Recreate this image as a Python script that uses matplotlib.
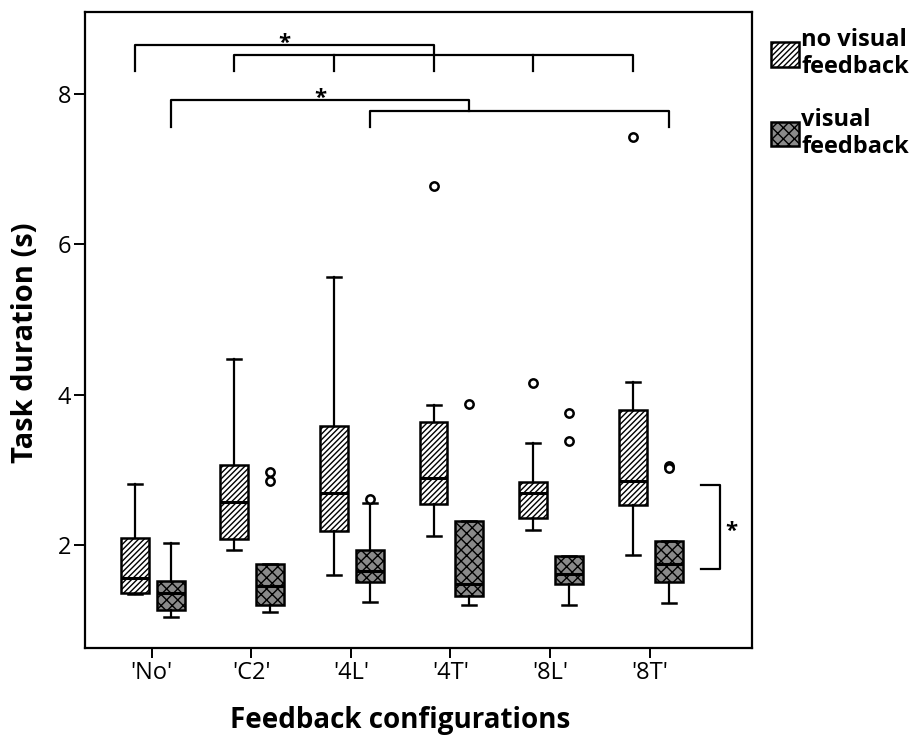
import matplotlib
matplotlib.use("Agg")
import matplotlib.pyplot as plt
from matplotlib.patches import Patch
import numpy as np

plt.rcParams['font.family'] = ['Open Sans', 'DejaVu Sans']
plt.rcParams['hatch.linewidth'] = 1.0

# ---- data ----
categories = ["'No'", "'C2'", "'4L'", "'4T'", "'8L'", "'8T'"]

# no visual feedback
nv_whislo = [1.35, 1.93, 1.60, 2.12, 2.20, 1.87]
nv_q1 = [1.36, 2.08, 2.19, 2.55, 2.36, 2.53]
nv_med = [1.56, 2.57, 2.69, 2.89, 2.70, 2.85]
nv_q3 = [2.09, 3.07, 3.59, 3.64, 2.84, 3.80]
nv_whishi = [2.81, 4.47, 5.57, 3.87, 3.36, 4.17]
nv_fliers = [[], [], [], [6.78], [4.15], [7.43]]

# visual feedback
v_whislo = [1.04, 1.11, 1.24, 1.21, 1.21, 1.23]
v_q1 = [1.14, 1.21, 1.51, 1.33, 1.49, 1.51]
v_med = [1.36, 1.46, 1.66, 1.48, 1.62, 1.75]
v_q3 = [1.52, 1.75, 1.94, 2.32, 1.85, 2.05]
v_whishi = [2.03, 1.75, 2.56, 2.32, 1.85, 2.05]
v_fliers = [[], [2.97, 2.85], [2.61], [3.88], [3.76, 3.39], [3.05, 3.02]]

legend_labels = ["no visual\nfeedback", "visual\nfeedback"]

# significance brackets (y levels in seconds)
upper_levels = [8.65, 8.52, 8.30]   # bracket 1 top, bracket 2 top, feet
lower_levels = [7.92, 7.77, 7.56]   # bracket 3 top, bracket 4 top, feet
side_bracket = [2.80, 1.69]         # right-hand bracket (nv vs v overall)


def make_stats(lo, q1, med, q3, hi, fl):
    return [dict(whislo=a, q1=b, med=c, q3=d, whishi=e, fliers=f)
            for a, b, c, d, e, f in zip(lo, q1, med, q3, hi, fl)]


def draw_boxes(ax, stats, pos, face, hatch):
    ax.bxp(
        stats, positions=pos, widths=0.28, capwidths=0.14,
        patch_artist=True, manage_ticks=False,
        boxprops=dict(facecolor=face, edgecolor='black', linewidth=1.8, hatch=hatch),
        medianprops=dict(color='black', linewidth=2.2),
        whiskerprops=dict(color='black', linewidth=1.6),
        capprops=dict(color='black', linewidth=1.8),
        flierprops=dict(marker='o', markerfacecolor='white', markeredgecolor='black',
                        markersize=6, markeredgewidth=1.8),
    )


def star(ax, x, y, **kw):
    ax.text(x, y, '*', ha='center', va='center', fontsize=16, fontweight='bold', **kw)


def draw_brackets(ax, nv_pos, v_pos):
    kw = dict(color='black', linewidth=1.6)
    top1, top2, foot = upper_levels
    # bracket 1: 'No' -> '4T' (no visual)
    ax.plot([nv_pos[0], nv_pos[0], nv_pos[3], nv_pos[3]], [foot, top1, top1, foot], **kw)
    # bracket 2: 'C2' .. '8T' (no visual)
    ax.plot([nv_pos[1], nv_pos[1], nv_pos[5], nv_pos[5]], [foot, top2, top2, foot], **kw)
    for i in (2, 4):
        ax.plot([nv_pos[i], nv_pos[i]], [top2, foot], **kw)
    star(ax, (nv_pos[0] + nv_pos[3]) / 2, top1 + 0.02)

    top3, top4, foot2 = lower_levels
    # bracket 3: 'No' -> '4T' (visual)
    ax.plot([v_pos[0], v_pos[0], v_pos[3], v_pos[3]], [foot2, top3, top3, top4], **kw)
    # bracket 4: '4L' -> '8T' (visual)
    ax.plot([v_pos[2], v_pos[2], v_pos[5], v_pos[5]], [foot2, top4, top4, foot2], **kw)
    star(ax, (v_pos[0] + v_pos[3]) / 2, top3 + 0.02)

    # right side bracket
    hi, lo = side_bracket
    ax.plot([6.52, 6.71, 6.71, 6.52], [hi, hi, lo, lo], **kw)
    star(ax, 6.82, (hi + lo) / 2 - 0.06)


def main():
    fig = plt.figure(figsize=(9.14, 7.4), dpi=100)
    ax = fig.add_axes([0.093, 0.125, 0.730, 0.859])

    x = np.arange(1, len(categories) + 1)
    nv_pos = x - 0.17
    v_pos = x + 0.19

    draw_boxes(ax, make_stats(nv_whislo, nv_q1, nv_med, nv_q3, nv_whishi, nv_fliers),
               nv_pos, 'white', '//////')
    draw_boxes(ax, make_stats(v_whislo, v_q1, v_med, v_q3, v_whishi, v_fliers),
               v_pos, '#8a8a8a', 'xxx')
    draw_brackets(ax, nv_pos, v_pos)

    ax.set_xlim(0.33, 7.03)
    ax.set_ylim(0.64, 9.09)
    ax.set_xticks(x)
    ax.set_xticklabels(categories, fontsize=17)
    ax.set_yticks([2, 4, 6, 8])
    ax.tick_params(axis='y', labelsize=17, length=8, width=1.4, direction='out', pad=2)
    ax.tick_params(axis='x', length=7, width=1.4, direction='out', pad=3)
    for s in ax.spines.values():
        s.set_linewidth(1.6)
        s.set_color('black')

    ax.set_xlabel('Feedback configurations', fontsize=20, fontweight='bold')
    ax.xaxis.set_label_coords(0.472, -0.092)
    ax.set_ylabel('Task duration (s)', fontsize=21, fontweight='bold')
    ax.yaxis.set_label_coords(-0.068, 0.479)

    handles = [
        Patch(facecolor='white', edgecolor='black', hatch='//////', linewidth=1.8),
        Patch(facecolor='#8a8a8a', edgecolor='black', hatch='xxx', linewidth=1.8),
    ]
    fig.legend(handles, legend_labels, loc='upper left', bbox_to_anchor=(0.826, 0.985),
               frameon=False, prop=dict(size=17, weight='bold'),
               handlelength=1.15, handleheight=1.2, handletextpad=0.1,
               labelspacing=1.2, borderpad=0.2)

    fig.savefig('out.png', dpi=100)
    plt.close(fig)


if __name__ == '__main__':
    main()
